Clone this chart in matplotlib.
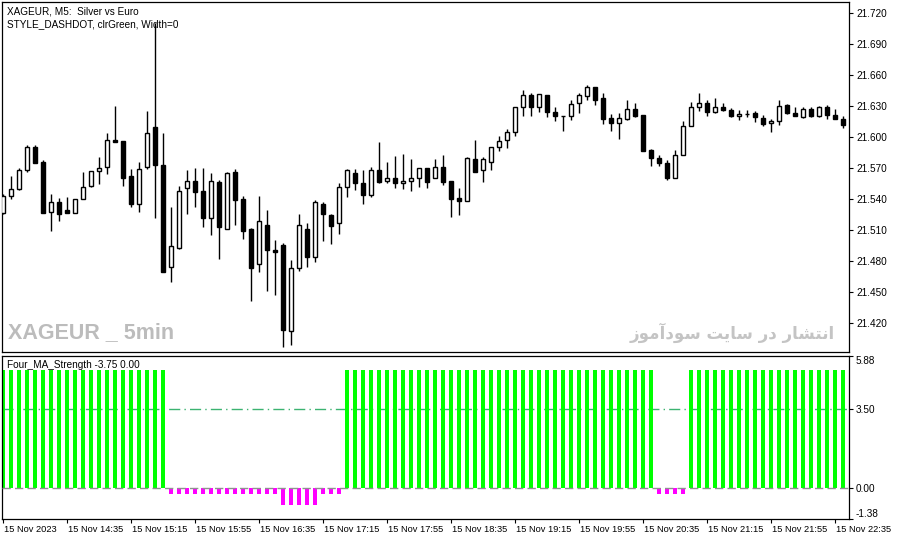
import numpy as np
import matplotlib
matplotlib.use("Agg")
import matplotlib.pyplot as plt
import matplotlib.transforms as mtransforms

# XAGEUR M5 candles, 15 Nov 2023 13:55 .. 22:40
opens = [21.526, 21.543, 21.549, 21.568, 21.590, 21.576, 21.527, 21.537, 21.529, 21.526,
         21.540, 21.552, 21.567, 21.571, 21.597, 21.596, 21.562, 21.535, 21.571, 21.609,
         21.573, 21.474, 21.492, 21.550, 21.557, 21.547, 21.521, 21.556, 21.511, 21.566,
         21.540, 21.511, 21.477, 21.515, 21.490, 21.495, 21.412, 21.473, 21.511, 21.484,
         21.535, 21.524, 21.516, 21.551, 21.565, 21.555, 21.544, 21.568, 21.557, 21.560,
         21.555, 21.557, 21.560, 21.570, 21.560, 21.571, 21.557, 21.541, 21.538, 21.578,
         21.568, 21.576, 21.590, 21.597, 21.605, 21.629, 21.640, 21.629, 21.640, 21.624,
         21.620, 21.620, 21.633, 21.639, 21.648, 21.637, 21.618, 21.613, 21.617, 21.627,
         21.621, 21.587, 21.579, 21.575, 21.560, 21.582, 21.610, 21.629, 21.633, 21.624,
         21.629, 21.626, 21.620, 21.622, 21.623, 21.618, 21.613, 21.615, 21.631, 21.623,
         21.619, 21.627, 21.620, 21.629, 21.621, 21.617]
highs = [21.545, 21.562, 21.570, 21.592, 21.592, 21.577, 21.545, 21.541, 21.542, 21.540,
         21.566, 21.567, 21.580, 21.604, 21.630, 21.596, 21.569, 21.576, 21.625, 21.710,
         21.604, 21.532, 21.552, 21.568, 21.570, 21.570, 21.565, 21.558, 21.566, 21.569,
         21.543, 21.512, 21.543, 21.529, 21.500, 21.497, 21.481, 21.525, 21.516, 21.539,
         21.537, 21.525, 21.555, 21.569, 21.569, 21.568, 21.571, 21.595, 21.576, 21.581,
         21.583, 21.578, 21.570, 21.570, 21.578, 21.582, 21.557, 21.550, 21.580, 21.597,
         21.580, 21.590, 21.601, 21.607, 21.629, 21.645, 21.642, 21.641, 21.640, 21.629,
         21.620, 21.636, 21.642, 21.650, 21.648, 21.642, 21.622, 21.623, 21.636, 21.633,
         21.621, 21.588, 21.582, 21.577, 21.587, 21.615, 21.634, 21.642, 21.636, 21.637,
         21.633, 21.628, 21.626, 21.626, 21.625, 21.621, 21.617, 21.636, 21.632, 21.629,
         21.629, 21.629, 21.630, 21.631, 21.627, 21.620]
lows = [21.525, 21.540, 21.548, 21.566, 21.575, 21.526, 21.509, 21.518, 21.526, 21.526,
        21.540, 21.551, 21.554, 21.564, 21.595, 21.552, 21.532, 21.527, 21.569, 21.521,
        21.469, 21.459, 21.491, 21.525, 21.532, 21.513, 21.505, 21.482, 21.511, 21.515,
        21.501, 21.441, 21.469, 21.451, 21.447, 21.396, 21.398, 21.470, 21.474, 21.479,
        21.499, 21.496, 21.506, 21.542, 21.548, 21.535, 21.542, 21.555, 21.555, 21.550,
        21.549, 21.547, 21.551, 21.550, 21.560, 21.553, 21.522, 21.524, 21.538, 21.566,
        21.556, 21.568, 21.586, 21.589, 21.601, 21.620, 21.620, 21.624, 21.619, 21.615,
        21.606, 21.616, 21.623, 21.636, 21.631, 21.612, 21.606, 21.598, 21.616, 21.619,
        21.586, 21.572, 21.572, 21.558, 21.560, 21.582, 21.610, 21.625, 21.620, 21.623,
        21.625, 21.619, 21.616, 21.619, 21.614, 21.610, 21.605, 21.611, 21.622, 21.620,
        21.618, 21.619, 21.619, 21.617, 21.617, 21.608]
closes = [21.543, 21.549, 21.568, 21.590, 21.575, 21.526, 21.537, 21.525, 21.526, 21.540,
          21.551, 21.567, 21.570, 21.597, 21.595, 21.560, 21.535, 21.569, 21.604, 21.573,
          21.469, 21.494, 21.547, 21.557, 21.546, 21.521, 21.557, 21.513, 21.565, 21.539,
          21.509, 21.473, 21.518, 21.490, 21.488, 21.413, 21.473, 21.515, 21.484, 21.537,
          21.525, 21.514, 21.551, 21.568, 21.555, 21.544, 21.568, 21.556, 21.560, 21.555,
          21.557, 21.560, 21.570, 21.556, 21.571, 21.556, 21.540, 21.538, 21.579, 21.566,
          21.578, 21.590, 21.596, 21.605, 21.629, 21.640, 21.629, 21.641, 21.624, 21.620,
          21.620, 21.632, 21.640, 21.648, 21.636, 21.617, 21.613, 21.618, 21.627, 21.620,
          21.586, 21.579, 21.575, 21.560, 21.582, 21.610, 21.629, 21.633, 21.624, 21.629,
          21.626, 21.620, 21.622, 21.622, 21.619, 21.612, 21.615, 21.630, 21.623, 21.620,
          21.627, 21.620, 21.629, 21.621, 21.617, 21.611]

# Four_MA_Strength histogram values
strength = [5.25, 5.25, 5.25, 5.25, 5.25, 5.25, 5.25, 5.25, 5.25, 5.25,
            5.25, 5.25, 5.25, 5.25, 5.25, 5.25, 5.25, 5.25, 5.25, 5.25,
            5.25, -0.25, -0.25, -0.25, -0.25, -0.25, -0.25, -0.25, -0.25, -0.25,
            -0.25, -0.25, -0.25, -0.25, -0.25, -0.75, -0.75, -0.75, -0.75, -0.75,
            -0.25, -0.25, -0.25, 5.25, 5.25, 5.25, 5.25, 5.25, 5.25, 5.25,
            5.25, 5.25, 5.25, 5.25, 5.25, 5.25, 5.25, 5.25, 5.25, 5.25,
            5.25, 5.25, 5.25, 5.25, 5.25, 5.25, 5.25, 5.25, 5.25, 5.25,
            5.25, 5.25, 5.25, 5.25, 5.25, 5.25, 5.25, 5.25, 5.25, 5.25,
            5.25, 5.25, -0.25, -0.25, -0.25, -0.25, 5.25, 5.25, 5.25, 5.25,
            5.25, 5.25, 5.25, 5.25, 5.25, 5.25, 5.25, 5.25, 5.25, 5.25,
            5.25, 5.25, 5.25, 5.25, 5.25, 5.25]

price_ticks = [21.420, 21.450, 21.480, 21.510, 21.540, 21.570, 21.600, 21.630, 21.660, 21.690, 21.720]
ind_ticks = [5.88, 3.50, 0.00, -1.38]
time_tick_pos = [0, 8, 16, 24, 32, 40, 48, 56, 64, 72, 80, 88, 96, 104]
time_tick_labels = ["15 Nov 2023", "15 Nov 14:35", "15 Nov 15:15", "15 Nov 15:55", "15 Nov 16:35",
                    "15 Nov 17:15", "15 Nov 17:55", "15 Nov 18:35", "15 Nov 19:15", "15 Nov 19:55",
                    "15 Nov 20:35", "15 Nov 21:15", "15 Nov 21:55", "15 Nov 22:35"]

o = np.array(opens)
h = np.array(highs)
l = np.array(lows)
c = np.array(closes)
x = np.arange(len(o))

plt.rcParams['font.family'] = ['Liberation Sans', 'DejaVu Sans']
W, H = 897, 541
fig = plt.figure(figsize=(W / 100, H / 100), dpi=100)


def px_axes(x0, y0, x1, y1):
    return fig.add_axes([x0 / W, 1 - y1 / H, (x1 - x0) / W, (y1 - y0) / H])


ax = px_axes(2, 2, 849, 352)
ax2 = px_axes(2, 356, 849, 519)

# candles
ax.vlines(x, l, h, color='black', linewidth=1, zorder=2)
bull = c >= o
body_lo = np.minimum(o, c)
body_h = np.maximum(np.abs(c - o), 0.0004)
ax.bar(x, body_h, bottom=body_lo, width=0.62,
       color=np.where(bull, 'white', 'black'), edgecolor='black', linewidth=1, zorder=3)

ax.set_xlim(-0.125, 105.75)
ax.set_ylim(21.3916, 21.7304)
ax.yaxis.tick_right()
ax.set_yticks(price_ticks)
ax.set_yticklabels([f"{t:.3f}" for t in price_ticks])
ax.tick_params(axis='y', direction='out', length=3, width=0.8, labelsize=7.2, pad=2)
ax.set_xticks([])
for s in ax.spines.values():
    s.set_linewidth(0.9)

ax.text(5 / 847, 0.988, "XAGEUR, M5:  Silver vs Euro", transform=ax.transAxes,
        fontsize=7.2, va='top', ha='left')
ax.text(5 / 847, 0.951, "STYLE_DASHDOT, clrGreen, Width=0", transform=ax.transAxes,
        fontsize=7.2, va='top', ha='left')

ax.text(0.007, 0.055, "XAGEUR _ 5min", transform=ax.transAxes, fontsize=15.5,
        fontweight='bold', color='#bcbcbc', va='center', ha='left')
# Persian caption, pre-shaped presentation forms in visual order
fa_text = ("\uFEAF\uFEEE\uFEE3\uFE81\uFEA9\uFEEE\uFEB3 "
           "\uFE96\uFBFE\uFE8E\uFEB3 "
           "\uFEAD\uFEA9 "
           "\uFEAD\uFE8E\uFEB8\uFE98\uFEE7\uFE8D")
ax.text(0.983, 0.055, fa_text, transform=ax.transAxes, fontsize=12,
        fontweight='bold', color='#c4c4c4', va='center', ha='right',
        family=['DejaVu Sans'])

# indicator window
cols = ['#00ff00' if v > 0 else '#ff00ff' for v in strength]
ax2.bar(x, strength, width=0.62, color=cols, linewidth=0, zorder=2)
ax2.axhline(3.5, color='#3cb371', linewidth=1, linestyle=(0, (8, 3, 1, 3)), zorder=1)
ax2.axhline(0.0, color='#909090', linewidth=1, linestyle=(0, (6, 3)), zorder=3)
ax2.set_xlim(-0.125, 105.75)
ax2.set_ylim(-1.38, 5.88)
ax2.yaxis.tick_right()
ax2.set_yticks(ind_ticks)
ax2.set_yticklabels([f"{t:.2f}" for t in ind_ticks])
ax2.tick_params(axis='y', direction='out', length=3, width=0.8, labelsize=7.2, pad=2)
ylabs = ax2.get_yticklabels()
ylabs[0].set_verticalalignment('top')
ylabs[-1].set_verticalalignment('bottom')
ax2.set_xticks(time_tick_pos)
ax2.set_xticklabels(time_tick_labels)
ax2.tick_params(axis='x', direction='out', length=3, width=0.8, labelsize=6.7, pad=1.5)
offset = mtransforms.ScaledTranslation(1 / 100, 0, fig.dpi_scale_trans)
for lab in ax2.get_xticklabels():
    lab.set_horizontalalignment('left')
    lab.set_transform(lab.get_transform() + offset)
for s in ax2.spines.values():
    s.set_linewidth(0.9)

ax2.text(5 / 847, 0.975, "Four_MA_Strength -3.75 0.00", transform=ax2.transAxes,
         fontsize=7.2, va='top', ha='left')

fig.savefig("out.png", dpi=100)
